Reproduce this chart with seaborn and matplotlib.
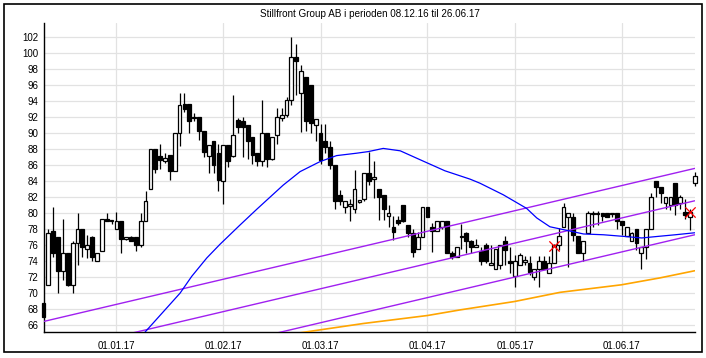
import matplotlib
matplotlib.use("Agg")
import matplotlib.pyplot as plt
from matplotlib.patches import Rectangle
import seaborn as sns
import numpy as np
import pandas as pd

# ---------------- data ----------------
title = "Stillfront Group AB i perioden 08.12.16 til 26.06.17"
month_labels = ["01.01.17", "01.02.17", "01.03.17", "01.04.17", "01.05.17", "01.06.17"]
month_pos = [15, 37, 57, 79, 97, 119]          # trading-day index of month start
y_ticks = list(range(66, 103, 2))

opens = [68.8, 71.0, 77.8, 77.0, 72.8, 75.0, 71.0, 76.3, 78.0, 75.5,
         77.0, 74.0, 75.25, 79.3, 79.0, 78.0, 79.0, 76.8, 77.0, 77.0,
         76.0, 79.0, 83.0, 88.0, 87.1, 86.5, 87.3, 85.3, 90.0, 93.6,
         93.6, 91.9, 92.0, 90.3, 87.1, 89.0, 87.5, 84.0, 88.5, 87.1,
         91.6, 91.5, 91.0, 89.5, 87.5, 86.5, 90.0, 86.75, 89.75, 91.9,
         92.25, 94.1, 99.5, 95.0, 97.0, 96.0, 91.0, 90.0, 89.0, 88.25,
         86.0, 82.3, 80.75, 80.9, 80.5, 81.4, 81.75, 85.0, 84.25, 83.0,
         82.3, 79.7, 78.25, 79.1, 81.0, 78.5, 77.5, 75.5, 77.0, 80.75,
         78.25, 77.8, 78.25, 79.0, 75.0, 74.5, 77.1, 77.5, 76.5, 75.75,
         75.3, 76.0, 73.5, 73.0, 73.5, 76.5, 74.0, 72.2, 73.5, 73.9,
         73.75, 72.0, 73.0, 74.0, 72.5, 73.75, 76.0, 78.25, 79.5, 79.5,
         77.1, 75.0, 77.5, 79.9, 79.9, 80.0, 80.0, 79.9, 80.0, 79.0,
         77.1, 76.5, 78.0, 75.0, 75.75, 78.0, 84.0, 83.25, 81.25, 81.0,
         83.75, 81.25, 80.2, 79.5, 83.75]
highs = [68.8, 78.0, 80.8, 77.0, 79.3, 75.0, 76.5, 80.0, 78.0, 77.3,
         77.1, 75.0, 79.3, 80.0, 79.2, 80.1, 79.0, 77.0, 77.1, 77.0,
         80.0, 82.8, 88.0, 88.0, 88.6, 87.5, 87.3, 90.0, 95.0, 95.0,
         93.6, 92.5, 92.0, 90.3, 88.5, 89.0, 88.7, 88.5, 88.5, 94.8,
         91.9, 92.0, 91.0, 89.5, 87.5, 94.1, 90.0, 89.5, 93.2, 93.2,
         94.5, 102.0, 101.1, 98.5, 97.0, 96.0, 91.75, 91.1, 91.1, 89.0,
         86.0, 82.9, 81.5, 81.8, 85.4, 81.7, 85.0, 87.7, 86.5, 83.0,
         82.3, 81.0, 79.6, 79.7, 81.0, 78.5, 78.0, 77.6, 80.75, 80.75,
         78.75, 79.0, 79.0, 79.0, 75.3, 75.75, 78.7, 77.6, 76.7, 76.8,
         75.8, 76.3, 76.0, 75.5, 76.0, 77.1, 75.8, 74.8, 75.0, 74.6,
         74.6, 73.0, 74.6, 74.6, 74.6, 76.2, 78.1, 81.25, 80.0, 80.0,
         77.1, 76.5, 80.3, 80.3, 80.3, 80.0, 80.0, 80.0, 80.0, 79.0,
         78.25, 77.6, 78.0, 75.75, 78.0, 82.5, 84.0, 83.25, 82.0, 82.0,
         83.75, 82.3, 81.75, 80.5, 85.2]
lows = [67.0, 71.0, 74.5, 70.0, 71.7, 70.9, 70.0, 73.5, 74.5, 74.4,
        74.0, 74.0, 75.25, 79.0, 78.6, 78.0, 75.0, 76.6, 76.5, 75.25,
        75.8, 79.0, 83.0, 85.0, 85.5, 86.3, 84.2, 85.3, 88.4, 92.7,
        90.0, 91.5, 89.2, 87.0, 85.0, 85.0, 82.75, 81.1, 85.8, 87.0,
        90.0, 87.0, 86.8, 86.2, 85.9, 85.9, 85.8, 86.7, 88.7, 91.5,
        92.0, 93.5, 94.8, 90.2, 90.3, 90.0, 89.0, 86.1, 87.5, 85.5,
        80.5, 81.0, 80.0, 79.0, 80.0, 81.3, 81.5, 83.5, 81.9, 79.2,
        79.2, 78.3, 76.7, 78.5, 78.9, 77.0, 74.5, 75.5, 77.0, 79.5,
        75.2, 77.8, 78.0, 75.0, 74.3, 74.5, 75.5, 75.0, 75.0, 75.75,
        73.5, 73.8, 73.5, 73.0, 73.0, 73.5, 72.5, 70.8, 73.5, 73.5,
        72.3, 71.7, 70.8, 73.0, 72.5, 73.75, 75.4, 78.25, 73.3, 76.5,
        75.0, 74.0, 77.5, 78.3, 78.5, 79.0, 79.5, 79.5, 78.0, 77.3,
        77.1, 76.5, 75.4, 73.0, 74.25, 78.0, 82.0, 81.25, 80.5, 80.4,
        79.8, 80.5, 79.3, 77.9, 83.4]
closes = [67.0, 77.5, 75.0, 72.8, 75.0, 71.0, 76.3, 78.0, 75.75, 76.0,
          74.5, 75.0, 79.3, 79.0, 79.1, 79.0, 76.8, 77.0, 76.5, 76.0,
          79.0, 81.5, 88.0, 85.5, 86.6, 86.9, 85.3, 90.0, 93.5, 93.0,
          91.5, 92.0, 90.3, 87.7, 88.5, 86.0, 84.1, 88.5, 86.5, 89.8,
          90.8, 90.75, 89.0, 87.3, 86.5, 90.0, 86.75, 89.5, 92.0, 92.25,
          94.1, 99.5, 99.0, 97.8, 91.5, 91.25, 91.75, 86.7, 88.25, 86.0,
          81.5, 81.5, 81.5, 81.2, 83.0, 81.6, 85.0, 84.0, 84.5, 82.0,
          80.5, 80.0, 77.7, 78.75, 79.0, 77.5, 75.2, 77.0, 80.75, 79.5,
          77.8, 79.0, 79.0, 75.0, 74.5, 75.75, 77.0, 76.5, 75.75, 76.0,
          74.0, 74.0, 73.75, 75.5, 76.0, 75.4, 73.75, 74.0, 74.8, 74.1,
          72.7, 73.0, 74.0, 73.0, 73.75, 76.0, 77.1, 80.75, 80.0, 77.3,
          75.0, 76.5, 80.0, 80.0, 80.0, 79.6, 79.5, 80.0, 79.0, 78.5,
          78.25, 77.5, 76.25, 75.75, 78.0, 82.0, 83.25, 82.5, 82.0, 82.0,
          81.0, 82.0, 79.8, 80.2, 84.7]

ma_idx = [20, 21, 28.1, 30.5, 33.6, 36.3, 40.4, 43.9, 46.6, 49.3, 52.8, 56.9,
          60.3, 64.4, 66.8, 69.9, 73.4, 77.8, 82.6, 87.8, 89.8, 94.6, 99.4,
          101.5, 104.2, 107.3, 111.1, 115.2, 119.3, 123.1, 126.5, 130.0, 134.0]
ma_val = [64.4, 65.2, 70.0, 72.1, 74.4, 76.1, 78.5, 80.5, 82.0, 83.5, 85.2, 86.45,
          87.2, 87.5, 87.7, 88.1, 87.8, 86.6, 85.3, 84.25, 83.75, 82.3, 80.6,
          79.4, 78.3, 77.9, 77.4, 77.3, 77.1, 76.9, 77.1, 77.3, 77.55]

trend_idx = [0, 134]
trend_start = [66.45, 62.4, 58.15]
trend_end = [85.6, 81.55, 77.3]

orange_idx = [50, 53.5, 65.8, 79, 85.7, 96.9, 106.3, 118.9, 126.8, 134]
orange_val = [64.8, 65.1, 66.2, 67.2, 67.9, 68.95, 70.1, 71.04, 71.9, 72.8]

signal_idx = [105, 133]
signal_val = [75.9, 80.2]

# ---------------- style ----------------
sns.set_theme(style="white")
plt.rcParams["font.family"] = ["Liberation Sans", "DejaVu Sans"]

W, H = 706, 358
fig = plt.figure(figsize=(W / 100, H / 100), dpi=100)
ax = fig.add_axes([44.3 / W, 1 - 332.3 / H, (695 - 44.3) / W, (332.3 - 23.3) / H])

# grid
for v in y_ticks:
    ax.axhline(v, color="#e2e2e2", lw=0.9, zorder=0)
for p in month_pos:
    ax.axvline(p, color="#e2e2e2", lw=0.9, zorder=0)

idx = np.arange(len(opens))
o = np.array(opens); c = np.array(closes)
hi = np.array(highs); lo = np.array(lows)

ax.vlines(idx, lo, hi, color="black", lw=0.9, zorder=3, clip_on=False)
up = c >= o
body_bottom = np.minimum(o, c)
body_height = np.maximum(np.abs(c - o), 0.06)
ax.bar(idx[up], body_height[up], bottom=body_bottom[up], width=0.78,
       color="white", edgecolor="black", linewidth=0.9, zorder=4, clip_on=False)
ax.bar(idx[~up], body_height[~up], bottom=body_bottom[~up], width=0.78,
       color="black", edgecolor="black", linewidth=0.9, zorder=4, clip_on=False)

# trend channel
trend_df = pd.DataFrame({
    "idx": trend_idx * 3,
    "val": [v for s, e in zip(trend_start, trend_end) for v in (s, e)],
    "line": [k for k in range(3) for _ in range(2)],
})
sns.lineplot(data=trend_df, x="idx", y="val", units="line", estimator=None,
             color="#a020f0", lw=1.0, ax=ax, zorder=5, legend=False)

ma_df = pd.DataFrame({"idx": ma_idx, "val": ma_val})
sns.lineplot(data=ma_df, x="idx", y="val", color="#0000ff", lw=0.9, ax=ax,
             zorder=6, legend=False)

or_df = pd.DataFrame({"idx": orange_idx, "val": orange_val})
sns.lineplot(data=or_df, x="idx", y="val", color="#ffa500", lw=1.2, ax=ax,
             zorder=5, legend=False)

ax.scatter(signal_idx, signal_val, marker="x", s=55, color="#ff0000",
           linewidths=0.9, zorder=7)

ax.set_xlim(0.165, 134.05)
ax.set_ylim(65.1, 103.75)
ax.set_xticks(month_pos)
ax.set_xticklabels(month_labels)
ax.set_yticks(y_ticks)
ax.set_yticklabels([str(v) for v in y_ticks])
ax.set_xlabel("")
ax.set_ylabel("")
ax.tick_params(axis="both", labelsize=7, colors="black", length=3.5, width=0.9,
               direction="out")
ax.tick_params(axis="y", pad=1)
ax.tick_params(axis="x", pad=3)
ax.grid(False)
for s in ("top", "right"):
    ax.spines[s].set_visible(False)
for s in ("left", "bottom"):
    ax.spines[s].set_color("black")
    ax.spines[s].set_linewidth(1.0)
ax.set_facecolor("white")

fig.text((44.3 + 695) / 2 / W, 1 - 14 / H, title, ha="center", va="center",
         fontsize=7.1, color="black")

fig.patches.append(Rectangle((4 / W, 1 - 352 / H), 698 / W, 348.5 / H,
                             transform=fig.transFigure, fill=False,
                             edgecolor="black", lw=1.2))

fig.savefig("out.png", dpi=100, facecolor="white")
